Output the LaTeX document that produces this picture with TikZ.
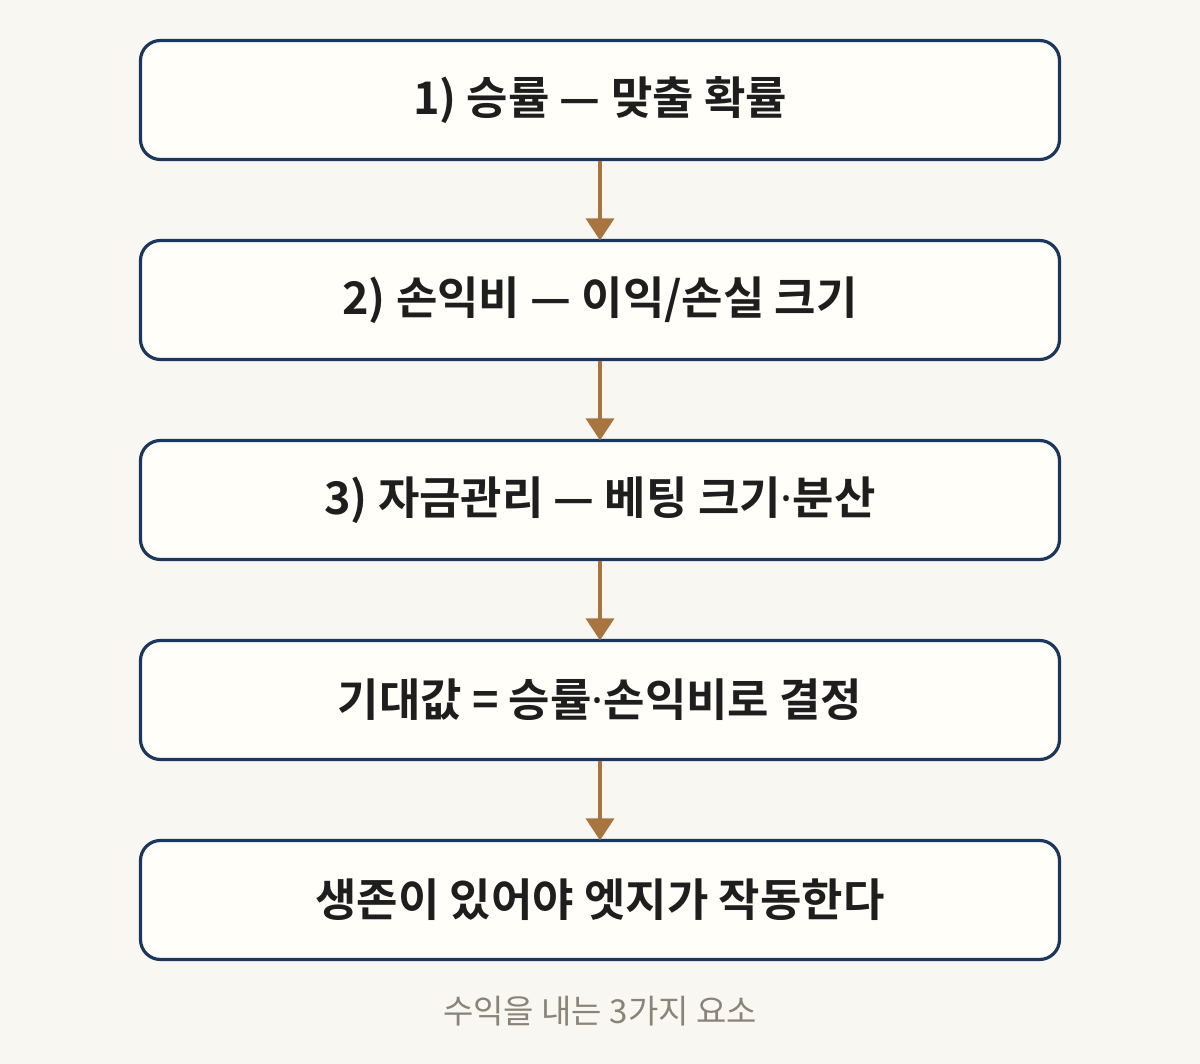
\documentclass[tikz,border=0pt]{standalone}
\usepackage{fontspec}
\setmainfont{Noto Sans CJK KR}
\newfontfamily\krbold{Noto Sans CJK KR Bold}
\newfontfamily\dotfont{Noto Sans}
\newcommand{\mdot}{{\dotfont\bfseries ·}}
\usetikzlibrary{arrows.meta}
\definecolor{bgc}{HTML}{F9F7F1}
\definecolor{boxfill}{HTML}{FFFEF9}
\definecolor{boxline}{HTML}{1C365C}
\definecolor{arrowc}{HTML}{A8743F}
\definecolor{txtc}{HTML}{1E1E1E}
\definecolor{capc}{HTML}{8A8377}
\tikzset{
  stepbox/.style={draw=boxline, line width=3.2pt, fill=boxfill, rounded corners=20pt,
    minimum width=919pt, minimum height=119pt, inner sep=0pt,
    font=\krbold\fontsize{45}{54}\selectfont, text=txtc},
  flowarrow/.style={draw=arrowc, line width=3.5pt,
    -{Triangle[length=22pt,width=28pt]}, shorten >=-1.5pt},
  captext/.style={font=\fontsize{33}{40}\selectfont, text=capc}
}
\begin{document}
\begin{tikzpicture}[x=1pt,y=-1pt]
\useasboundingbox (0,0) rectangle (1200,1064);
\fill[bgc] (0,0) rectangle (1200,1064);
\node[stepbox] (b1) at (600,100) {1) 승률 — 맞출 확률};
\node[stepbox] (b2) at (600,300) {2) 손익비 — 이익/손실 크기};
\node[stepbox] (b3) at (600,500) {3) 자금관리 — 베팅 크기\mdot 분산};
\node[stepbox] (b4) at (600,700) {기대값 = 승률\mdot 손익비로 결정};
\node[stepbox] (b5) at (600,900) {생존이 있어야 엣지가 작동한다};
\node[captext] (cap) at (600,1011) {수익을 내는 3가지 요소};
\draw[flowarrow] (b1.south) -- (b2.north);
\draw[flowarrow] (b2.south) -- (b3.north);
\draw[flowarrow] (b3.south) -- (b4.north);
\draw[flowarrow] (b4.south) -- (b5.north);
\end{tikzpicture}
\end{document}
